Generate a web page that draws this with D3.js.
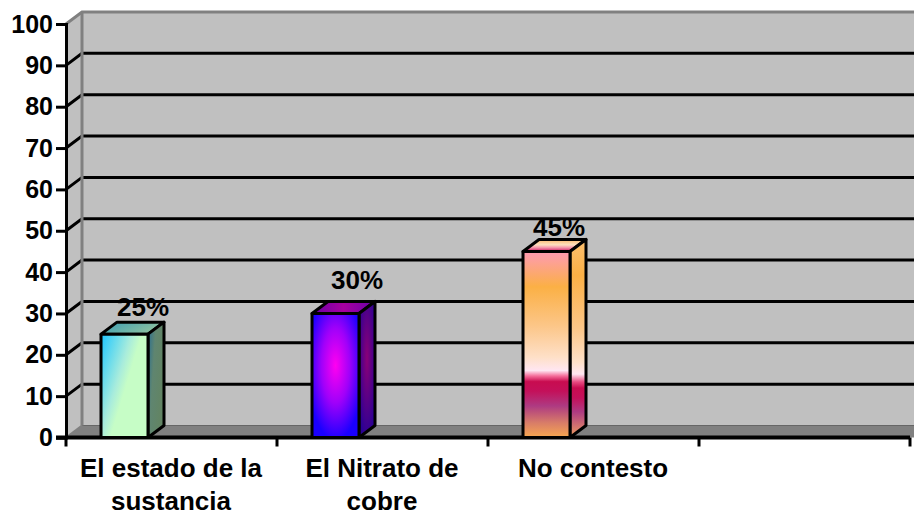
<!DOCTYPE html>
<html lang="es">
<head>
  <meta charset="UTF-8">
  <title>Resultados</title>
  <style>
    body { margin: 0; background: #fff; overflow: hidden; }
    svg { display: block; }
    text { font-family: "Liberation Sans", Arial, sans-serif; font-weight: bold; fill: #000; }
  </style>
</head>
<body>
  <svg width="914" height="514"></svg>

  <script src="https://d3js.org/d3.v7.min.js"></script>
  <script>
    const categories = ["El estado de la|sustancia", "El Nitrato de|cobre", "No contesto", ""];
    const slots = ["a", "b", "c"];
    const values = [25, 30, 45];
    const valueLabels = ["25%", "30%", "45%"];
    const yTicks = [0, 10, 20, 30, 40, 50, 60, 70, 80, 90, 100];
    const labelShiftX = [42, 45, 36];
    const labelShiftY = [-18, -24, -15];

    const depthX = 16, depthY = -12;
    const plotBottom = 437.5, plotTop = 24, plotLeft = 66, plotRight = 910;

    const svg = d3.select("svg");
    const defs = svg.append("defs");

    const y = d3.scaleLinear().domain([0, 100]).range([plotBottom, plotTop]);
    const x = d3.scaleBand().domain(categories).range([plotLeft, plotRight]);
    // three slots per category, only the first one holds a bar
    const xSlot = d3.scaleBand().domain(slots).range([0, x.step()]).paddingOuter(0.745);

    function gradient(id, stops, opts) {
      const g = defs.append(opts.radial ? "radialGradient" : "linearGradient").attr("id", id);
      Object.entries(opts.attrs).forEach(([k, v]) => g.attr(k, v));
      stops.forEach(s => g.append("stop").attr("offset", s[0]).attr("stop-color", s[1]));
    }

    const vertical = { attrs: { x1: 0, y1: 0, x2: 0, y2: 1 } };
    const horizontal = { attrs: { x1: 0, y1: 0, x2: 1, y2: 0 } };

    gradient("bar1Front", [[0, "#22c8ff"], [0.5, "#a8ecdc"], [0.68, "#c6fdc6"], [1, "#c6fdc6"]],
      { attrs: { x1: 0, y1: 0.05, x2: 0.85, y2: 0.62 } });
    gradient("bar1Side", [[0, "#2a6f92"], [0.45, "#5f8570"], [1, "#628464"]],
      { attrs: { x1: 0, y1: 0.05, x2: 0.9, y2: 0.45 } });
    gradient("bar1Top", [[0, "#3f9fb4"], [1, "#94c49e"]], { attrs: { x1: 0, y1: 0.2, x2: 1, y2: 0.6 } });

    gradient("bar2Front", [[0, "#ff00f0"], [0.5, "#a000fa"], [1, "#1a00ff"]],
      { radial: true, attrs: { cx: 0.5, cy: 0.42, r: 0.6 } });
    gradient("bar2Side", [[0, "#8a0078"], [1, "#2a0094"]],
      { radial: true, attrs: { cx: 0.5, cy: 0.42, r: 0.6 } });
    gradient("bar2Top", [[0, "#6a00a8"], [0.5, "#a800a0"], [1, "#6a00a8"]], horizontal);

    const sunset = [
      [0, "#ff98b0"], [0.05, "#fda098"], [0.19, "#fbb045"], [0.4, "#fcc688"], [0.57, "#fee0c8"],
      [0.64, "#ffe6f2"], [0.67, "#f46a98"], [0.7, "#c80c50"], [0.75, "#c4105a"], [0.83, "#ae3a82"],
      [0.92, "#d87c68"], [1, "#f8a850"]
    ];
    gradient("bar3Front", sunset, vertical);
    gradient("bar3Side", [[0, "#fcc070"], [0.18, "#fbb045"], [0.45, "#fcc688"], [0.62, "#fee0c8"],
      [0.68, "#ffe6f2"], [0.72, "#e84a80"], [0.75, "#c80c50"], [0.8, "#c4105a"], [0.87, "#ae3a82"], [1, "#f0a060"]], vertical);
    gradient("bar3Top", [[0, "#fbb868"], [0.45, "#fde0c0"], [0.7, "#f490a8"], [1, "#c8105a"]], vertical);

    // walls and floor of the 3D box
    const backLeft = plotLeft + depthX, backBottom = plotBottom + depthY, backTop = plotTop + depthY;
    const wall = svg.append("g");
    wall.append("rect").attr("x", backLeft).attr("y", backTop)
      .attr("width", 914 - backLeft).attr("height", backBottom - backTop).attr("fill", "#c0c0c0");
    wall.append("path")
      .attr("d", `M${plotLeft},${plotTop}L${backLeft},${backTop}L${backLeft},${backBottom}L${plotLeft},${plotBottom}Z`)
      .attr("fill", "#c0c0c0");
    wall.append("path")
      .attr("d", `M${plotLeft},${plotBottom}L${backLeft},${backBottom}L914,${backBottom}L914,${plotBottom}Z`)
      .attr("fill", "#808080");
    wall.append("line").attr("x1", backLeft).attr("x2", 914).attr("y1", backBottom).attr("y2", backBottom)
      .attr("stroke", "#666").attr("stroke-width", 1);

    // grid lines run along the side wall and then the back wall
    const grid = svg.append("g").attr("fill", "none").attr("stroke-width", 3);
    yTicks.filter(t => t > 0 && t < 100).forEach(t => {
      grid.append("path")
        .attr("d", `M${plotLeft},${y(t)}L${backLeft},${y(t) + depthY}L914,${y(t) + depthY}`)
        .attr("stroke", "#000").attr("stroke-linejoin", "miter");
    });
    wall.append("path")
      .attr("d", `M${plotLeft},${plotTop}L${backLeft},${backTop}L914,${backTop}`)
      .attr("fill", "none").attr("stroke", "#808080").attr("stroke-width", 3);
    wall.append("path")
      .attr("d", `M${plotLeft},${plotBottom}L${backLeft},${backBottom}`)
      .attr("fill", "none").attr("stroke", "#808080").attr("stroke-width", 2);
    grid.append("line").attr("x1", backLeft).attr("x2", backLeft)
      .attr("y1", backTop).attr("y2", backBottom).attr("stroke", "#808080");

    // axes
    const yAxis = d3.axisLeft(y).tickValues(yTicks).tickSize(10).tickPadding(3);
    const yG = svg.append("g").attr("transform", `translate(${plotLeft},0)`).call(yAxis);
    yG.attr("font-family", null).attr("font-size", null);
    yG.select(".domain").attr("stroke", "#000").attr("stroke-width", 3);
    yG.selectAll(".tick line").attr("stroke", "#000").attr("stroke-width", 3);
    yG.selectAll("text").style("font-size", "25px");

    const xAxis = d3.axisBottom(x).tickSize(0).tickFormat("");
    const xG = svg.append("g").attr("transform", `translate(0,${plotBottom})`).call(xAxis);
    xG.select(".domain").attr("stroke", "#000").attr("stroke-width", 4)
      .attr("d", `M${plotLeft - 10},0H${plotRight}`);

    const tickX = categories.map(c => x(c)).concat(plotRight);
    svg.append("g").selectAll("line").data(tickX).enter().append("line")
      .attr("x1", d => d).attr("x2", d => d)
      .attr("y1", plotBottom).attr("y2", plotBottom + 9)
      .attr("stroke", "#000").attr("stroke-width", 3);

    // category labels, split on | into two lines
    const catG = svg.append("g").attr("text-anchor", "middle").style("font-size", "26px");
    categories.forEach(c => {
      c.split("|").forEach((line, i) => {
        catG.append("text")
          .attr("x", x(c) + x.bandwidth() / 2 - 0.5)
          .attr("y", 477 + i * 33)
          .text(line);
      });
    });

    // bars as three faces each
    const bars = svg.append("g").selectAll("g").data(values).enter().append("g");
    const barX = (i) => x(categories[i]) + xSlot("a");
    const w = xSlot.bandwidth();

    bars.each(function(v, i) {
      const g = d3.select(this);
      const x0 = barX(i), x1 = x0 + w, yt = y(v);
      const face = (d, fill) => g.append("path").attr("d", d).attr("fill", fill)
        .attr("stroke", "#000").attr("stroke-width", 3).attr("stroke-linejoin", "round");
      face(`M${x0},${yt}L${x0 + depthX},${yt + depthY}L${x1 + depthX},${yt + depthY}L${x1},${yt}Z`, `url(#bar${i + 1}Top)`);
      face(`M${x1},${yt}L${x1 + depthX},${yt + depthY}L${x1 + depthX},${plotBottom + depthY}L${x1},${plotBottom}Z`, `url(#bar${i + 1}Side)`);
      face(`M${x0},${yt}H${x1}V${plotBottom}H${x0}Z`, `url(#bar${i + 1}Front)`);
    });

    bars.append("text")
      .attr("text-anchor", "middle")
      .style("font-size", "26px")
      .attr("x", (d, i) => barX(i) + labelShiftX[i])
      .attr("y", (d, i) => y(d) + labelShiftY[i])
      .text((d, i) => valueLabels[i]);
  </script>
</body>
</html>
